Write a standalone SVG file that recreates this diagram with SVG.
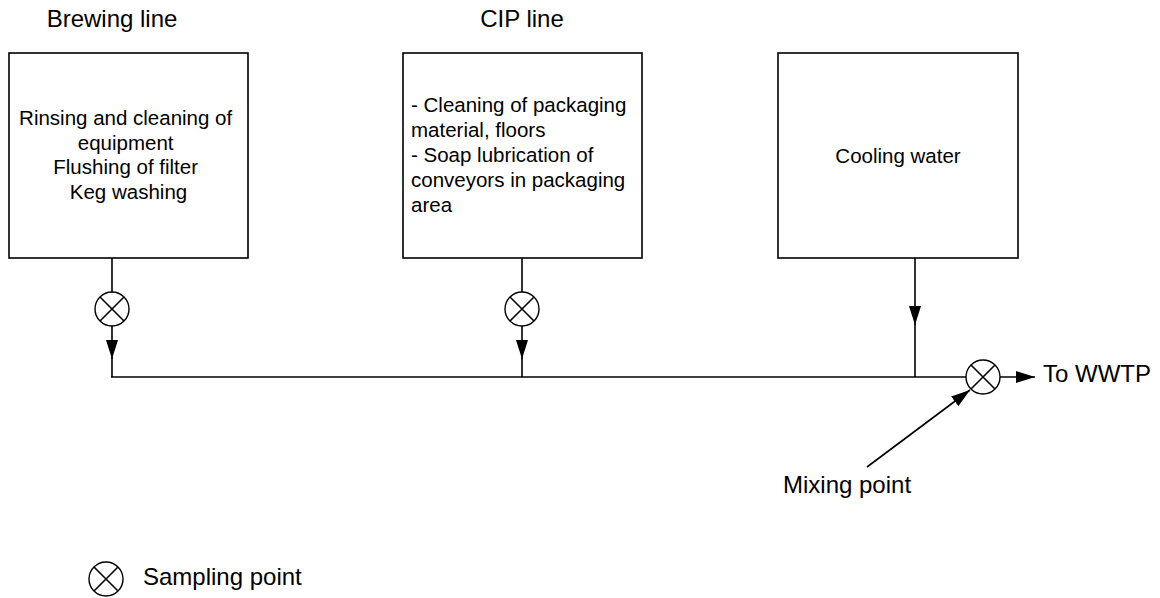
<svg xmlns="http://www.w3.org/2000/svg" width="1160" height="598" viewBox="0 0 1160 598">
<style>
text{font-family:"Liberation Sans",Arial,sans-serif;fill:#000}
.t{font-size:24px}
.b{font-size:20.5px}
.box{fill:#fff;stroke:#000;stroke-width:1.6}
.ln{fill:none;stroke:#000;stroke-width:1.6}
.sp{fill:#fff;stroke:#000;stroke-width:1.4}
</style>
<defs>
<marker id="ah" markerUnits="userSpaceOnUse" markerWidth="20" markerHeight="12" refX="19" refY="6" orient="auto">
<path d="M0,0 L19,6 L0,12 z" fill="#000"/>
</marker>
<g id="sym">
<circle cx="0" cy="0" r="17" class="sp"/>
<path d="M-12,-12 L12,12 M12,-12 L-12,12" class="ln" stroke-width="1.4"/>
</g>
</defs>

<g id="title-brewing"><text class="t" x="112" y="27" text-anchor="middle">Brewing line</text></g>
<g id="title-cip"><text class="t" x="522" y="27" text-anchor="middle">CIP line</text></g>

<g id="connectors">
<line class="ln" x1="112" y1="258" x2="112" y2="292"/>
<line class="ln" x1="112" y1="326" x2="112" y2="359" marker-end="url(#ah)"/>
<line class="ln" x1="112" y1="358" x2="112" y2="377"/>
<line class="ln" x1="522" y1="258" x2="522" y2="292"/>
<line class="ln" x1="522" y1="326" x2="522" y2="359" marker-end="url(#ah)"/>
<line class="ln" x1="522" y1="358" x2="522" y2="377"/>
<line class="ln" x1="915" y1="258" x2="915" y2="325" marker-end="url(#ah)"/>
<line class="ln" x1="915" y1="324" x2="915" y2="377"/>
<line class="ln" x1="111" y1="377" x2="966" y2="377"/>
<line class="ln" x1="1000" y1="377" x2="1035" y2="377" marker-end="url(#ah)"/>
<line class="ln" x1="867" y1="467" x2="970" y2="390" marker-end="url(#ah)"/>
</g>

<g id="node-brewing">
<rect class="box" x="9" y="53" width="239" height="205"/>
<text class="b" text-anchor="middle">
<tspan x="128.5" y="125">Rinsing and cleaning of</tspan>
<tspan x="128.5" y="149.5">equipment</tspan>
<tspan x="128.5" y="174">Flushing of filter</tspan>
<tspan x="128.5" y="198.5">Keg washing</tspan>
</text>
</g>

<g id="node-cip">
<rect class="box" x="403" y="53" width="239" height="205"/>
<text class="b">
<tspan x="411" y="112">- Cleaning of packaging</tspan>
<tspan x="411" y="137">material, floors</tspan>
<tspan x="411" y="162">- Soap lubrication of</tspan>
<tspan x="411" y="187">conveyors in packaging</tspan>
<tspan x="411" y="212">area</tspan>
</text>
</g>

<g id="node-cooling">
<rect class="box" x="778" y="53" width="240" height="205"/>
<text class="b" x="898" y="163" text-anchor="middle">Cooling water</text>
</g>

<g id="sample-brewing"><use href="#sym" x="112" y="309"/></g>
<g id="sample-cip"><use href="#sym" x="522" y="309"/></g>
<g id="mixing-point"><use href="#sym" x="983" y="377"/></g>

<g id="label-wwtp"><text class="t" x="1043" y="382">To WWTP</text></g>
<g id="label-mixing"><text class="t" x="783" y="493">Mixing point</text></g>

<g id="legend">
<use href="#sym" x="106" y="579"/>
<text class="t" x="143" y="585">Sampling point</text>
</g>
</svg>
